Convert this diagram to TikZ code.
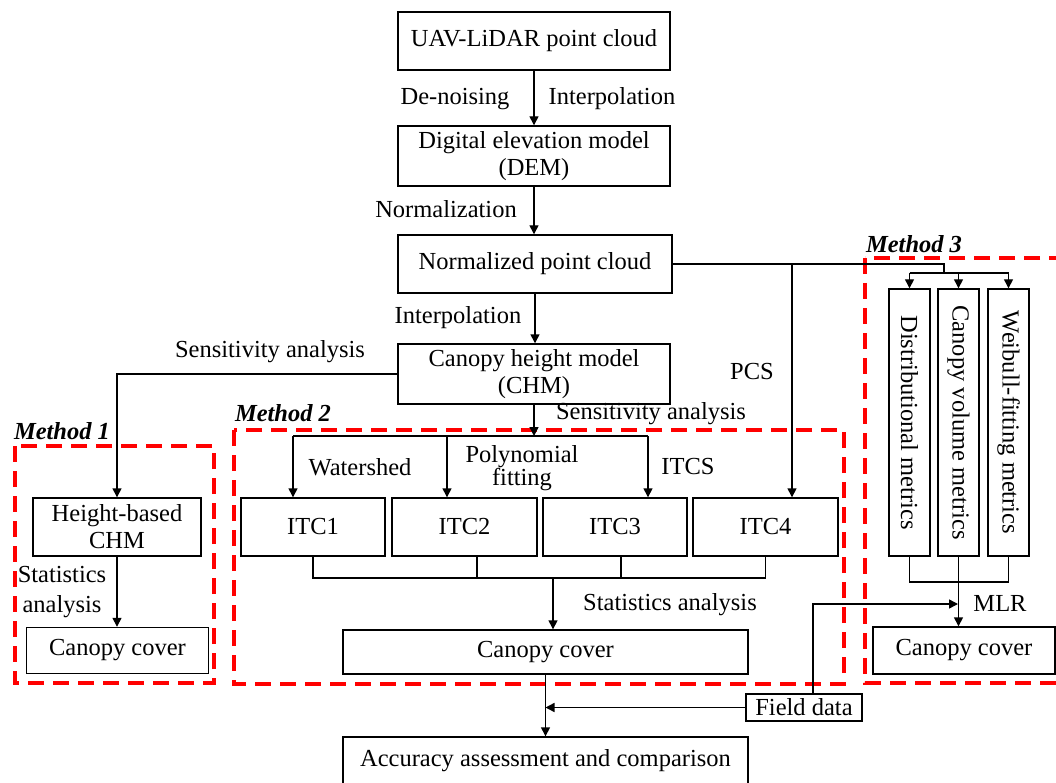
\documentclass[tikz,border=0pt]{standalone}
\usepackage{fontspec}
\setmainfont{Liberation Serif}
\usetikzlibrary{arrows.meta}
\begin{document}
\begin{tikzpicture}[x=1pt,y=-1pt,
  every node/.style={font=\fontsize{24.5}{27}\selectfont},
  box/.style={draw,line width=1.4pt,inner sep=0pt,align=center},
  conn/.style={line width=1.4pt},
  arr/.style={line width=1.4pt,-{Triangle[length=9pt,width=9pt]}},
  method/.style={draw=red,line width=3.5pt,dash pattern=on 16pt off 9pt},
  mlabel/.style={inner sep=0pt,font=\fontsize{24.5}{27}\selectfont\bfseries\itshape},
  lbl/.style={inner sep=0pt,align=center}]
\useasboundingbox (0,0) rectangle (1056,783);
\clip (0,0) rectangle (1056,783);

% method frames
\draw[method] (15,446) rectangle (214,683);
\draw[method] (234,430) rectangle (844,684);
\draw[method] (865,258) rectangle (1090,683);
\node[mlabel] (m1) at (62,431) {Method 1};
\node[mlabel] (m2) at (283,413) {Method 2};
\node[mlabel] (m3) at (914,244) {Method 3};

% boxes
\node[box,minimum width=272pt,minimum height=58pt] (uav) at (534,41) {UAV-LiDAR point cloud};
\node[box,minimum width=272pt,minimum height=60pt] (dem) at (534,156) {Digital elevation model\\(DEM)};
\node[box,minimum width=274pt,minimum height=58pt] (npc) at (535,264) {Normalized point cloud};
\node[box,minimum width=272pt,minimum height=60pt] (chm) at (534,374) {Canopy height model\\(CHM)};
\node[box,minimum width=168pt,minimum height=58pt] (hb) at (117,527) {Height-based\\CHM};
\node[box,minimum width=182pt,minimum height=46pt] (cc1) at (117.5,650.5) {Canopy cover};
\node[box,minimum width=144pt,minimum height=58pt] (itc1) at (313,527) {ITC1};
\node[box,minimum width=145pt,minimum height=58pt] (itc2) at (464.5,527) {ITC2};
\node[box,minimum width=144pt,minimum height=58pt] (itc3) at (615,527) {ITC3};
\node[box,minimum width=145pt,minimum height=58pt] (itc4) at (765.5,527) {ITC4};
\node[box,minimum width=405pt,minimum height=44pt] (cc2) at (545.5,652) {Canopy cover};
\node[box,minimum width=405pt,minimum height=48pt] (acc) at (545.5,761) {Accuracy assessment and comparison};
\node[box,minimum width=116pt,minimum height=27pt] (fd) at (804,707.5) {Field data};
\node[box,rotate=-90,minimum width=267pt,minimum height=41pt] (d1) at (909.5,422.5) {Distributional metrics};
\node[box,rotate=-90,minimum width=267pt,minimum height=41pt] (d2) at (958.5,422.5) {Canopy volume metrics};
\node[box,rotate=-90,minimum width=267pt,minimum height=41pt] (d3) at (1008.5,422.5) {Weibull-fitting metrics};
\node[box,minimum width=182pt,minimum height=47pt] (cc3) at (964,650.5) {Canopy cover};

% labels
\node[lbl] (t1) at (455,99) {De-noising};
\node[lbl] (t2) at (612,99) {Interpolation};
\node[lbl] (t3) at (446,209) {Normalization};
\node[lbl] (t4) at (458,318) {Interpolation};
\node[lbl] (t5) at (270,352) {Sensitivity analysis};
\node[lbl] (t6) at (752,372) {PCS};
\node[lbl] (t7) at (651,414) {Sensitivity analysis};
\node[lbl] (t8) at (360,467) {Watershed};
\node[lbl,font=\fontsize{24.5}{23.5}\selectfont] (t9) at (522,468) {Polynomial\\fitting};
\node[lbl] (t10) at (688,467) {ITCS};
\node[lbl,font=\fontsize{24.5}{30}\selectfont] (t11) at (62,592) {Statistics\\analysis};
\node[lbl] (t12) at (670,605) {Statistics analysis};
\node[lbl] (t13) at (1000,603) {MLR};

% coordinates
\coordinate (k1) at (293,436);
\coordinate (k2) at (447,436);
\coordinate (k3) at (648,436);
\coordinate (p1) at (792,264);
\coordinate (p2) at (944,264);
\coordinate (p3) at (944,273);
\coordinate (q1) at (909.5,273);
\coordinate (q3) at (1008.5,273);
\coordinate (m4) at (765.5,578);
\coordinate (m0) at (553,578);
\coordinate (n1) at (909.5,582);
\coordinate (f1) at (958,604);

% connectors
\draw[arr] (uav.south) -- (uav.south |- dem.north);
\draw[arr] (dem.south) -- (dem.south |- npc.north);
\draw[arr] (npc.south) -- (npc.south |- chm.north);
\draw[arr] (chm.west) -| (hb.north);
\draw[arr] (hb.south) -- (hb.south |- cc1.north);
\draw[arr] (chm.south) -- (chm.south |- k1);
\draw[conn] (k1) -- (k3);
\draw[arr] (k1) -- (k1 |- itc1.north);
\draw[arr] (k2) -- (k2 |- itc2.north);
\draw[arr] (k3) -- (k3 |- itc3.north);
\draw[conn] (npc.east) -- (p2) -- (p3);
\draw[conn] (q1) -- (q3);
\draw[arr] (p1) -- (p1 |- itc4.north);
\draw[arr] (q1) -- (d1.west);
\draw[arr] (d2.west |- q1) -- (d2.west);
\draw[arr] (q3) -- (d3.west);
\draw[conn] (itc1.south) |- (m4) -- (itc4.south);
\draw[conn] ([xshift=12.5pt]itc2.south) -- ++(0,22);
\draw[conn] ([xshift=6pt]itc3.south) -- ++(0,22);
\draw[arr] (m0) -- (m0 |- cc2.north);
\draw[conn] (d1.east) -- (d1.east |- n1) -- (d3.east |- n1) -- (d3.east);
\draw[conn] (d2.east) -- (d2.east |- n1);
\draw[arr] (d2.east |- n1) -- (d2.east |- cc3.north);
\draw[arr] ([xshift=9pt]fd.north) |- (f1);
\draw[arr] (cc2.south) -- (acc.north);
\draw[arr] (fd.west) -- (fd.west -| acc.north);
\end{tikzpicture}
\end{document}
